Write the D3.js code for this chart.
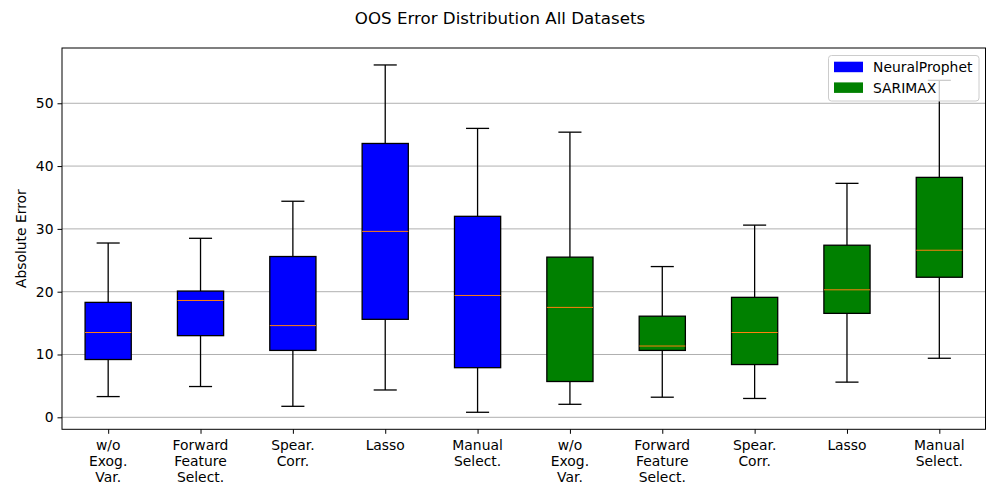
<!DOCTYPE html>
<html>
<head>
<meta charset="utf-8">
<script src="https://cdn.jsdelivr.net/npm/d3@7/dist/d3.min.js"></script>
<style>
  html, body { margin: 0; padding: 0; background: #fff; }
  text { font-family: "DejaVu Sans", sans-serif; }
</style>
</head>
<body>
<svg id="chart" width="1000" height="500"></svg>
<script>
// ---- data ----
const categories = [
  "w/o\nExog.\nVar.", "Forward\nFeature\nSelect.", "Spear.\nCorr.", "Lasso", "Manual\nSelect.",
  "w/o\nExog.\nVar.", "Forward\nFeature\nSelect.", "Spear.\nCorr.", "Lasso", "Manual\nSelect."
];
const models = ["NeuralProphet","NeuralProphet","NeuralProphet","NeuralProphet","NeuralProphet",
                "SARIMAX","SARIMAX","SARIMAX","SARIMAX","SARIMAX"];
const whiskerLow  = [3.3, 4.9, 1.75, 4.35, 0.8, 2.07, 3.2, 3.0, 5.6, 9.4];
const q1          = [9.2, 13.0, 10.65, 15.6, 7.9, 5.7, 10.65, 8.4, 16.55, 22.3];
const medians     = [13.5, 18.6, 14.6, 29.6, 19.4, 17.5, 11.35, 13.5, 20.3, 26.6];
const q3          = [18.3, 20.1, 25.6, 43.6, 32.0, 25.5, 16.1, 19.1, 27.4, 38.2];
const whiskerHigh = [27.75, 28.5, 34.4, 56.1, 46.0, 45.4, 24.0, 30.6, 37.25, 53.65];
const yTicks = [0, 10, 20, 30, 40, 50];
const legendNames = ["NeuralProphet", "SARIMAX"];
const title = "OOS Error Distribution All Datasets";
const yLabel = "Absolute Error";

const colors = { "NeuralProphet": "#0000ff", "SARIMAX": "#008000" };

const rows = categories.map((c, i) => ({
  pos: i + 1, label: c, model: models[i],
  lo: whiskerLow[i], q1: q1[i], med: medians[i], q3: q3[i], hi: whiskerHigh[i]
}));

const svg = d3.select("#chart");
const L = 62, R = 985.5, T = 48, B = 429.3;
const FS = "13.89px";

const x = d3.scaleLinear().domain([0.5, 10.5]).range([L, R]);
const y = d3.scaleLinear().domain([-1.91, 58.8]).range([B, T]);

// title
svg.append("text").attr("x", 500).attr("y", 24).attr("text-anchor", "middle")
  .attr("font-size", "16.67px").attr("fill", "#000").text(title);

// grid
svg.append("g").selectAll("line").data(yTicks).join("line")
  .attr("x1", L).attr("x2", R)
  .attr("y1", d => y(d)).attr("y2", d => y(d))
  .attr("stroke", "#b0b0b0").attr("stroke-width", 1);

// y axis
const yAxis = svg.append("g").attr("transform", `translate(${L},0)`)
  .call(d3.axisLeft(y).tickValues(yTicks).tickSize(4.5).tickPadding(4));
yAxis.select(".domain").remove();
yAxis.selectAll("text").attr("font-size", FS).attr("fill", "#000")
  .attr("font-family", "DejaVu Sans, sans-serif");
yAxis.selectAll("line").attr("stroke", "#000").attr("stroke-width", 1);

// x axis
const xAxis = svg.append("g").attr("transform", `translate(0,${B})`)
  .call(d3.axisBottom(x).tickValues(rows.map(r => r.pos)).tickSize(4.5).tickFormat(""));
xAxis.select(".domain").remove();
xAxis.selectAll("line").attr("stroke", "#000").attr("stroke-width", 1);

const xl = svg.append("g").selectAll("text").data(rows).join("text")
  .attr("text-anchor", "middle").attr("font-size", FS).attr("fill", "#000")
  .attr("transform", d => `translate(${x(d.pos)},${B + 20.5})`);
xl.each(function(d) {
  const lines = d.label.split("\n");
  d3.select(this).selectAll("tspan").data(lines).join("tspan")
    .attr("x", 0).attr("dy", (l, i) => i === 0 ? 0 : 16).text(l => l);
});

// y label
svg.append("text").attr("transform", `translate(26,${(T + B) / 2}) rotate(-90)`)
  .attr("text-anchor", "middle").attr("font-size", FS).attr("fill", "#000").text(yLabel);

// boxes
const bw = x(1.25) - x(1);   // half box width in px
const cw = x(1.125) - x(1);  // half cap width in px
const g = svg.append("g").selectAll("g").data(rows).join("g");
g.append("line").attr("x1", d => x(d.pos)).attr("x2", d => x(d.pos))
  .attr("y1", d => y(d.lo)).attr("y2", d => y(d.q1)).attr("stroke", "#000").attr("stroke-width", 1.3);
g.append("line").attr("x1", d => x(d.pos)).attr("x2", d => x(d.pos))
  .attr("y1", d => y(d.q3)).attr("y2", d => y(d.hi)).attr("stroke", "#000").attr("stroke-width", 1.3);
g.append("line").attr("x1", d => x(d.pos) - cw).attr("x2", d => x(d.pos) + cw)
  .attr("y1", d => y(d.lo)).attr("y2", d => y(d.lo)).attr("stroke", "#000").attr("stroke-width", 1.3);
g.append("line").attr("x1", d => x(d.pos) - cw).attr("x2", d => x(d.pos) + cw)
  .attr("y1", d => y(d.hi)).attr("y2", d => y(d.hi)).attr("stroke", "#000").attr("stroke-width", 1.3);
g.append("rect").attr("x", d => x(d.pos) - bw).attr("width", 2 * bw)
  .attr("y", d => y(d.q3)).attr("height", d => y(d.q1) - y(d.q3))
  .attr("fill", d => colors[d.model]).attr("stroke", "#000").attr("stroke-width", 1.3);
g.append("line").attr("x1", d => x(d.pos) - bw).attr("x2", d => x(d.pos) + bw)
  .attr("y1", d => y(d.med)).attr("y2", d => y(d.med)).attr("stroke", "#ff7f0e").attr("stroke-width", 1);

// frame
svg.append("rect").attr("x", L).attr("y", T).attr("width", R - L).attr("height", B - T)
  .attr("fill", "none").attr("stroke", "#000").attr("stroke-width", 1);

// legend
const lg = svg.append("g");
lg.append("rect").attr("x", 828.5).attr("y", 55.5).attr("width", 150.5).attr("height", 45.5)
  .attr("rx", 3).attr("fill", "#fff").attr("fill-opacity", 0.8)
  .attr("stroke", "#cccccc").attr("stroke-width", 1);
legendNames.forEach((n, i) => {
  lg.append("rect").attr("x", 834).attr("y", 61.7 + i * 20.7).attr("width", 29).attr("height", 10.5)
    .attr("fill", colors[n]);
  lg.append("text").attr("x", 873).attr("y", 71.8 + i * 20.7).attr("font-size", FS)
    .attr("fill", "#000").text(n);
});
</script>
</body>
</html>
